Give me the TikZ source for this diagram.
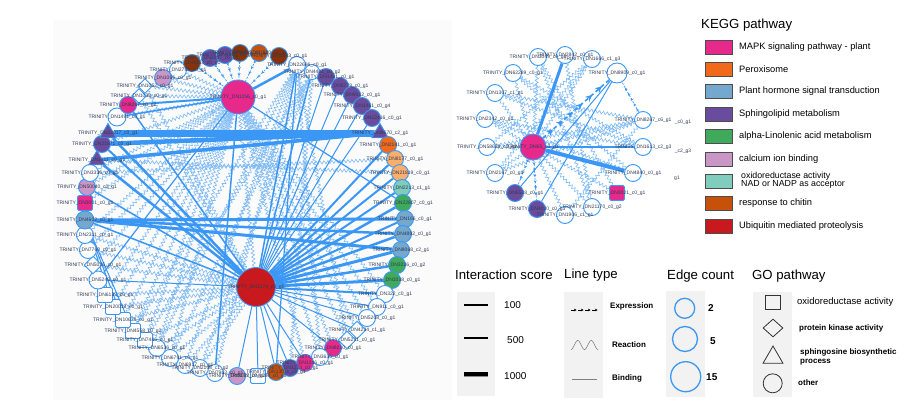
\documentclass[tikz,border=0pt]{standalone}
\usepackage{fontspec}
\setmainfont{Liberation Sans}
\usetikzlibrary{shapes.geometric,decorations.pathmorphing,decorations.markings,arrows.meta}
\pgfdeclarelayer{bglayer}
\pgfdeclarelayer{edgelayer}
\pgfdeclarelayer{labellayer}
\pgfsetlayers{bglayer,edgelayer,main,labellayer}
\definecolor{nodeblue}{HTML}{3A97F5}
\definecolor{edgeblue}{HTML}{3A97F5}
\definecolor{snakeblue}{HTML}{7DBAF6}
\definecolor{lblc}{HTML}{2E3B55}
\definecolor{mapk}{HTML}{E6298A}
\definecolor{perox}{HTML}{F06A1A}
\definecolor{hormone}{HTML}{74A8CF}
\definecolor{sphingo}{HTML}{6A4C9E}
\definecolor{linol}{HTML}{3FAA5B}
\definecolor{calcium}{HTML}{C996C6}
\definecolor{oxido}{HTML}{80CDBD}
\definecolor{chitin}{HTML}{C8510A}
\definecolor{ubiq}{HTML}{C8191F}
\definecolor{brownn}{HTML}{8A3106}
\definecolor{lorange}{HTML}{FDAE6B}
\definecolor{legbg}{HTML}{F2F2F2}
\definecolor{swborder}{HTML}{4D4D4D}
\definecolor{goline}{HTML}{333333}
\tikzset{
  nb/.style={draw=nodeblue, line width=0.9pt, inner sep=0pt, fill=white},
  cc/.style={nb, circle, minimum size=17pt},
  sq/.style={nb, rectangle, rounded corners=1.5pt, minimum size=15pt},
  dia/.style={nb, diamond, minimum size=18pt},
  tri/.style={nb, regular polygon, regular polygon sides=3, minimum size=19pt},
  lbl/.style={font=\fontsize{5}{5}\selectfont, text=lblc, inner sep=0pt},
  bind/.style={draw=edgeblue},
  react/.style={draw=snakeblue, line width=0.6pt, decorate, decoration={snake, amplitude=1.6pt, segment length=4pt}},
  expr/.style={draw=edgeblue, line width=0.7pt, dash pattern=on 2pt off 1.5pt, postaction={decorate},
    decoration={markings, mark=between positions 0.12 and 0.92 step 6pt with {\arrow{Stealth[length=3pt,width=3pt]}}}},
  exprbig/.style={draw=edgeblue, line width=1.6pt, dash pattern=on 4pt off 3pt, postaction={decorate},
    decoration={markings, mark=between positions 0.15 and 0.9 step 13pt with {\arrow{Stealth[length=6.5pt,width=6.5pt]}}}},
  legtitle/.style={anchor=west, inner sep=0pt, font=\fontsize{13.2}{15}\selectfont},
  legtxt/.style={anchor=west, inner sep=0pt, font=\fontsize{9.3}{11}\selectfont},
  legbold/.style={anchor=west, inner sep=0pt, font=\bfseries\fontsize{8}{9}\selectfont},
  swatch/.style={draw=swborder, line width=0.8pt, minimum width=27pt, minimum height=14pt, inner sep=0pt},
  goshape/.style={draw=goline, line width=0.8pt, inner sep=0pt},
}
\newcommand{\gnode}[4]{%
  \node[#3] (#1) at (#2) {};%
  \begin{pgfonlayer}{labellayer}\node[lbl] (#1l) at (#1) {TRINITY\_DN#4};\end{pgfonlayer}%
}
\begin{document}
\begin{tikzpicture}[x=1pt,y=-1pt]
\useasboundingbox (0,0) rectangle (913,415);
\begin{pgfonlayer}{bglayer}
\fill[black!1.5] (53,20) rectangle (452,400);
\end{pgfonlayer}

% ---------- left network: hubs ----------
\gnode{P}{238,97}{cc,fill=mapk,minimum size=34pt}{1156\_c0\_g1}
\gnode{R}{256,287}{cc,fill=ubiq,minimum size=39pt}{1274\_c0\_g1}
% top
\gnode{t1}{178,70}{cc}{2788\_c0\_g1}
\gnode{t2}{192,63}{cc,fill=brownn}{1653\_c0\_g1}
\gnode{t3}{210,58}{cc,fill=sphingo}{2037\_c0\_g1}
\gnode{t4}{225,55}{cc,fill=sphingo}{4409\_c0\_g1}
\gnode{t5}{240,53}{cc,fill=brownn}{2819\_c0\_g1}
\gnode{t6}{259,53}{cc,fill=chitin}{1520\_c0\_g1}
\gnode{t7}{279,56}{cc,fill=brownn}{2243\_c0\_g1}
\gnode{t8}{297,65}{cc}{22696\_c0\_g1}
\gnode{t9}{312,72}{cc,minimum size=15pt}{4401\_c0\_g2}
% right side
\gnode{a1}{326,77}{cc,fill=sphingo}{1481\_c0\_g1}
\gnode{a2}{340,86}{cc,fill=sphingo}{5778\_c0\_g1}
\gnode{a3}{352,95}{cc,fill=sphingo}{9012\_c0\_g1}
\gnode{a4}{362,106}{cc,fill=sphingo}{1461\_c0\_g4}
\gnode{a5}{372,118}{cc,fill=sphingo}{12416\_c0\_g1}
\gnode{a6}{380,133}{tri,fill=sphingo}{8670\_c2\_g1}
\gnode{a7}{388,145}{cc,fill=perox}{2141\_c0\_g1}
\gnode{a8}{395,159}{cc,fill=lorange}{8177\_c0\_g1}
\gnode{a9}{400,173}{cc,fill=lorange}{21819\_c0\_g1}
\gnode{a10}{402,188}{cc,fill=oxido}{2213\_c1\_g1}
\gnode{a11}{403,203}{cc,fill=linol}{22807\_c0\_g1}
\gnode{a12}{405,219}{cc,fill=hormone}{166\_c0\_g1}
\gnode{a13}{403,234}{cc,fill=hormone}{4892\_c0\_g1}
\gnode{a14}{401,250}{cc,fill=hormone}{8068\_c2\_g1}
\gnode{a15}{397,265}{cc,fill=linol}{3226\_c0\_g2}
\gnode{a16}{392,280}{cc,fill=linol}{1038\_c0\_g1}
\gnode{a17}{385,294}{cc}{322\_c0\_g1}
\gnode{a18}{377,307}{cc}{911\_c0\_g1}
\gnode{a19}{367,318}{cc}{5208\_c0\_g1}
\gnode{a20}{357,330}{dia}{4234\_c1\_g1}
\gnode{a21}{347,340}{dia}{5231\_c0\_g1}
\gnode{a22}{333,348}{cc,fill=mapk}{8210\_c0\_g1}
\gnode{a23}{320,357}{cc}{3636\_c0\_g1}
\gnode{a24}{305,363}{cc,fill=mapk}{1246\_c0\_g1}
\gnode{a25}{290,368}{cc,fill=sphingo}{3223\_c0\_g1}
\gnode{a26}{276,372}{cc,fill=chitin}{13011\_c0\_g1}
\gnode{a27}{258,376}{sq}{9184\_c0\_g1}
\gnode{a28}{237,376}{cc,fill=calcium}{2183\_c0\_g2}
% left side
\gnode{b1}{215,373}{cc}{7963\_c0\_g1}
\gnode{b2}{200,368}{cc}{2108\_c1\_g2}
\gnode{b3}{185,365}{cc}{6917\_c0\_g1}
\gnode{b4}{170,358}{cc}{6791\_c0\_g1}
\gnode{b5}{157,348}{cc}{6536\_c0\_g1}
\gnode{b6}{145,340}{sq}{7446\_c0\_g1}
\gnode{b7}{133,331}{sq}{4558\_c0\_g2}
\gnode{b8}{123,320}{sq}{10638\_c0\_g1}
\gnode{b9}{113,307}{sq}{20013\_c0\_g1}
\gnode{b10}{105,295}{sq}{6135\_c0\_g1}
\gnode{b11}{98,280}{cc,minimum size=18pt}{5249\_c0\_g1}
\gnode{b12}{93,265}{dia}{5026\_c0\_g1}
\gnode{b13}{88,250}{cc}{7768\_c0\_g1}
\gnode{b14}{85,235}{cc}{2311\_c0\_g1}
\gnode{b16}{85,203}{sq,fill=mapk}{3001\_c0\_g1}
\gnode{b15}{85,220}{cc,fill=hormone,minimum size=18pt}{4602\_c0\_g1}
\gnode{b17}{87,187}{cc,fill=calcium}{50040\_c0\_g1}
\gnode{b18}{90,173}{cc}{3336\_c0\_g1}
\gnode{b19}{97,160}{tri,fill=sphingo}{1411\_c0\_g1}
\gnode{b20}{102,144}{cc,fill=sphingo}{21871\_c0\_g1}
\gnode{b21}{108,133}{tri,fill=sphingo}{22017\_c0\_g1}
\gnode{b22}{117,117}{cc,minimum size=18pt}{1491\_c0\_g1}
\gnode{b23}{128,105}{cc,fill=mapk}{8287\_c0\_g2}
\gnode{b24}{139,96}{dia,minimum size=15pt}{1033\_c0\_g1}
\gnode{b25}{145,86}{dia,minimum size=15pt}{1052\_c0\_g1}
\gnode{b26}{163,78}{cc,fill=calcium}{1066\_c0\_g1}

% ---------- right network ----------
\gnode{H}{533,147}{cc,fill=mapk,minimum size=26pt}{65\_c0\_g1}
\gnode{q1}{565,55}{cc}{2842\_c0\_g1}
\gnode{q2}{538,57}{cc}{3049\_c0\_g1}
\gnode{q3}{592,59}{cc}{1666\_c1\_g3}
\gnode{q4}{617,73}{cc,minimum size=20pt}{8909\_c0\_g1}
\gnode{q5}{513,73}{cc}{62289\_c0\_g1}
\gnode{q6}{495,93}{cc}{1307\_c1\_g1}
\gnode{q7}{485,119}{cc}{2342\_c0\_g1}
\gnode{q8}{487,147}{cc}{58638\_c0\_g1}
\gnode{q9}{495,173}{cc}{2167\_c0\_g1}
\gnode{q10}{515,193}{cc,fill=sphingo}{5528\_c0\_g1}
\gnode{q11}{537,209}{cc,fill=sphingo}{4020\_c0\_g3}
\gnode{q12}{565,215}{cc}{1906\_c1\_g1}
\gnode{q13}{592,207}{cc}{21170\_c0\_g2}
\gnode{q14}{617,193}{sq,fill=mapk}{3021\_c0\_g1}
\gnode{q15}{633,173}{cc}{4840\_c0\_g1}
\gnode{q16}{643,147}{cc}{1613\_c2\_g3}
\gnode{q17}{643,120}{cc}{8267\_c6\_g1}
\node[lbl] (x1) at (683,122) {\_c0\_g1};
\node[lbl] (x2) at (683,151) {\_c2\_g3};
\node[lbl] (x3) at (677,178) {g1};

% ---------- edges ----------
\begin{pgfonlayer}{edgelayer}
\foreach \a/\b in {P/R, b18/a8, b19/a9, P/b22, P/b20, P/b18, P/b17, P/b16, P/b14, P/b13, P/b12,
  P/b10, P/b9, P/b8, P/b7, P/b6, P/b5, P/b4, b6/R, b5/R, b4/R, b3/R, b2/R, b12/R, b13/R, b14/R,
  b10/R, b9/R, b8/R,
  t8/b5, t8/b3, t8/a23, t8/b1, t8/a21, t8/b7, t9/b2, t9/b4, t9/a25, t9/b6, t1/P, b25/P, b24/P, b26/P,
  a17/P, a18/P, a19/P, a20/P, a21/P, a22/P, a23/P, a24/P, b25/R, b24/R}
  \draw[react] (\a) -- (\b);
\foreach \a/\b/\w in {P/t8/2.5, P/b23/2, P/b22/1.5, P/b11/1.2, P/b1/1.5, P/a11/1.2,
  b21/a6/7, b20/a6/4.5, b19/a6/3.5, b15/a12/3, b15/a13/2.5, b15/a14/3, b15/R/1.5,
  b15/b9/1, b15/b8/1, b15/b7/1,
  R/t8/1.5, R/t9/1.5, R/a1/1, R/a2/1, R/a3/1, R/a4/1, R/a5/1, R/a7/2, R/a8/2, R/a9/2, R/a10/2,
  R/a11/2.5, R/a12/2, R/a13/2.5, R/a14/3, R/a15/2.5, R/a16/3, R/a17/2, R/a18/1, R/a19/1, R/a20/1,
  R/a22/1, R/a24/1, R/a25/1, R/a26/1, R/a27/1, R/a28/1, R/b21/2.5, R/b20/2, R/b19/2.5,
  R/b23/1.5, R/b11/1, R/b17/1.5, t8/a26/1.2}
  \draw[bind, line width=\w pt] (\a) -- (\b);
\foreach \a in {t2,t3,t4,t5,t6,t7}
  \draw[expr] (\a) -- (P);
% right network
\foreach \a/\b in {H/q2, H/q3, H/q5, H/q6, H/q7, H/q8, H/q9, H/q12, H/q13, H/q14, H/q17,
  q5/q16, q6/q17, q3/q9, q7/q16, q2/q14, q8/q17, q1/q13, q5/q15, q6/q16, q9/q17, q12/q17,
  q7/q15, q3/q8, q2/q13}
  \draw[react] (\a) -- (\b);
\foreach \a/\b/\w in {H/q1/3, H/q16/1.5, H/q15/4, q4/q10/1, q4/q11/1}
  \draw[bind, line width=\w pt] (\a) -- (\b);
\draw[exprbig] (H) -- (q4);
\draw[expr] (q17) -- (q4);
\draw[expr] (H) -- (q10);
\draw[expr] (H) -- (q11);
\end{pgfonlayer}

% ---------- KEGG legend ----------
\node[legtitle] (kt) at (701,25) {KEGG pathway};
\foreach \c/\y/\t [count=\i] in {mapk/47/{MAPK signaling pathway - plant}, perox/69/{Peroxisome},
  hormone/91/{Plant hormone signal transduction}, sphingo/114/{Sphingolipid metabolism},
  linol/136/{alpha-Linolenic acid metabolism}, calcium/159/{calcium ion binding},
  chitin/203/{response to chitin}, ubiq/226/{Ubiquitin mediated proteolysis}}{
  \node[swatch, fill=\c] (k\i) at (718.5,\y) {};
  \node[legtxt] (kl\i) at (739,\y) {\t};
}
\node[swatch, fill=oxido] (ko) at (718.5,181) {};
\node[anchor=west, inner sep=0pt, align=left, font=\fontsize{8.8}{8}\selectfont] (kol) at (741,180.5) {oxidoreductase activity\\NAD or NADP as acceptor};

% ---------- bottom legends ----------
\fill[legbg] (457,292) rectangle (495,396);
\fill[legbg] (564,292) rectangle (603,398);
\fill[legbg] (666,291) rectangle (705,397);
\fill[legbg] (753,292) rectangle (792,397);
\node[legtitle] (it) at (455,275) {Interaction score};
\node[legtitle] (lt) at (564,275) {Line type};
\node[legtitle] (et) at (667,276) {Edge count};
\node[legtitle] (gt) at (752,276) {GO pathway};
% interaction score
\draw[line width=1.3pt] (464,305) -- (488,305);
\draw[line width=2.6pt] (464,338) -- (488,338);
\draw[line width=5pt, black!45] (464,374) -- (488,374);
\draw[line width=3.2pt] (464,374) -- (488,374);
\node[anchor=west, inner sep=0pt, font=\fontsize{10}{11}\selectfont] (i1) at (504,305) {100};
\node[anchor=west, inner sep=0pt, font=\fontsize{10}{11}\selectfont] (i2) at (507,340) {500};
\node[anchor=west, inner sep=0pt, font=\fontsize{10}{11}\selectfont] (i3) at (504,376) {1000};
% line type
\foreach \i in {0,1,2,3}
  \draw[-{Stealth[length=2.6pt,width=2.6pt]}, line width=0.5pt] ({571+7*\i},310) -- ({576.5+7*\i},310);
\draw[gray, line width=0.6pt] plot[domain=0:27, samples=80, smooth] ({571+\x},{345+4.5*cos(\x*26.667)});
\draw[gray, line width=0.9pt] (572,379) -- (597,379);
\node[legbold] (l1) at (610,306) {Expression};
\node[legbold] (l2) at (612,345) {Reaction};
\node[legbold] (l3) at (612,378) {Binding};
% edge count
\node[draw=nodeblue, line width=1.3pt, circle, minimum size=20pt, inner sep=0pt] (e1) at (684.7,308.3) {};
\node[draw=nodeblue, line width=1.3pt, circle, minimum size=25pt, inner sep=0pt] (e2) at (685,339) {};
\node[draw=nodeblue, line width=1.3pt, circle, minimum size=30pt, inner sep=0pt] (e3) at (685.7,376.7) {};
\node[anchor=west, inner sep=0pt, font=\bfseries\fontsize{10}{11}\selectfont] (en1) at (708,308) {2};
\node[anchor=west, inner sep=0pt, font=\bfseries\fontsize{10}{11}\selectfont] (en2) at (710,341) {5};
\node[anchor=west, inner sep=0pt, font=\bfseries\fontsize{10}{11}\selectfont] (en3) at (706,377) {15};
% GO pathway
\node[goshape, rectangle, minimum size=14.5pt] (g1) at (772.8,302.5) {};
\node[goshape, diamond, minimum width=20pt, minimum height=18pt] (g2) at (773,328) {};
\node[goshape, regular polygon, regular polygon sides=3, minimum size=23pt] (g3) at (773,357.5) {};
\node[goshape, circle, minimum size=19pt] (g4) at (772.7,383.3) {};
\node[anchor=west, inner sep=0pt, font=\fontsize{9.5}{11}\selectfont] (gl1) at (797,302) {oxidoreductase activity};
\node[legbold] (gl2) at (799,328) {protein kinase activity};
\node[anchor=west, inner sep=0pt, align=left, font=\bfseries\fontsize{8}{9.5}\selectfont] (gl3) at (800,357) {sphingosine biosynthetic\\process};
\node[legbold] (gl4) at (798,383) {other};
\end{tikzpicture}
\end{document}
